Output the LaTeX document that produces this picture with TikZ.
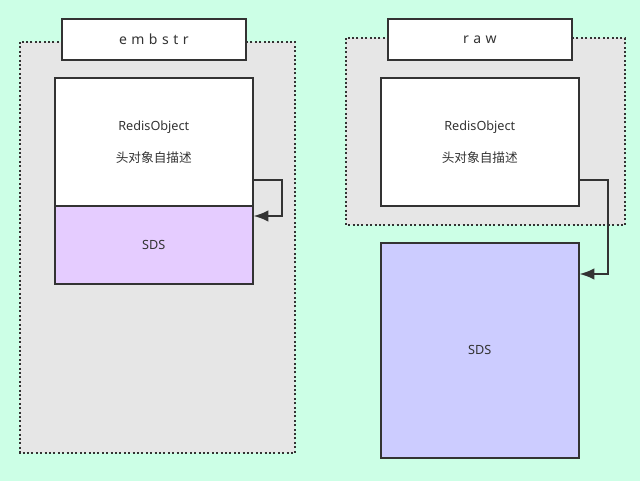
\documentclass[tikz,border=0pt]{standalone}
\usepackage{fontspec}
\setmainfont{Noto Sans}
\newfontfamily\ttlfont[LetterSpace=6]{Noto Sans}
\newfontfamily\cjk{Noto Sans CJK SC}
\usetikzlibrary{arrows.meta}
\definecolor{bgmint}{HTML}{CCFFE6}
\definecolor{contgray}{HTML}{E6E6E6}
\definecolor{sdspurple}{HTML}{E5CCFF}
\definecolor{sdsblue}{HTML}{CCCCFF}
\definecolor{edge}{HTML}{333333}
\tikzset{
  container/.style={fill=contgray, draw=edge, line width=1.5pt, dash pattern=on 1.5pt off 1.8pt},
  box/.style={draw=edge, line width=1.2pt, fill=white},
  lbl/.style={font=\fontsize{9.5}{11}\selectfont, text=edge},
  ttl/.style={font=\ttlfont\fontsize{10.5}{12}\selectfont, text=edge},
  conn/.style={draw=edge, line width=1.3pt, -{Latex[length=11pt,width=8.5pt]}},
}
\begin{document}
\begin{tikzpicture}[x=0.75pt,y=-0.75pt]
\fill[bgmint] (0,0) rectangle (640,481);
\useasboundingbox (0,0) rectangle (640,481);
% containers
\path[container] (20,42) rectangle (295,453);
\path[container] (346,38) rectangle (625,225);
% titles
\node[box, minimum width=138pt, minimum height=30.75pt, anchor=north west, ttl] (t1) at (61,18) {e m b s t r};
\node[box, minimum width=138pt, minimum height=30.75pt, anchor=north west, ttl] (t2) at (387,18) {r a w};
% left
\node[box, minimum width=148.5pt, minimum height=96pt, anchor=north west, lbl, align=center] (ro1) at (54,77) {RedisObject\\[13pt]{\cjk 头对象自描述}};
\node[box, fill=sdspurple, minimum width=148.5pt, minimum height=58.5pt, anchor=north west, lbl] (s1) at (54,205) {SDS};
% right
\node[box, minimum width=148.5pt, minimum height=96pt, anchor=north west, lbl, align=center] (ro2) at (380,77) {RedisObject\\[13pt]{\cjk 头对象自描述}};
\node[box, fill=sdsblue, minimum width=148.5pt, minimum height=161.25pt, anchor=north west, lbl] (s2) at (380,242) {SDS};
% connectors
\coordinate (a1) at (282,180);
\coordinate (a2) at (282,216);
\draw[conn] (ro1.east |- a1) -- (a1) -- (a2) -- (s1.east |- a2);
\coordinate (b1) at (608,180);
\coordinate (b2) at (608,274);
\draw[conn] (ro2.east |- b1) -- (b1) -- (b2) -- (s2.east |- b2);
\end{tikzpicture}
\end{document}
